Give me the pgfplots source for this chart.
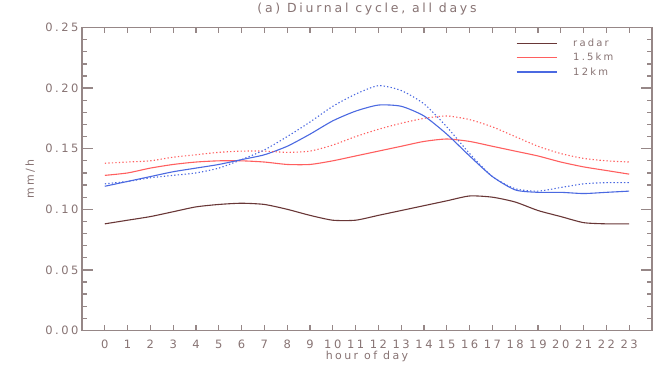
\documentclass[border=0pt]{standalone}
\usepackage{fontspec}
\setmainfont{DejaVu Sans}[LetterSpace=22]
\usepackage{pgfplots}
\usepackage{pgfplotstable}
\pgfplotsset{compat=1.18}
\definecolor{radarc}{RGB}{105,55,55}
\definecolor{redc}{RGB}{255,95,95}
\definecolor{bluec}{RGB}{75,105,225}
\definecolor{axc}{RGB}{150,135,135}
\definecolor{txtc}{RGB}{135,115,115}

\pgfplotstableread{
h radar red reddot blue bluedot
0 0.088 0.128 0.138 0.119 0.121
1 0.091 0.130 0.139 0.123 0.123
2 0.094 0.134 0.140 0.127 0.126
3 0.098 0.137 0.143 0.131 0.128
4 0.102 0.139 0.145 0.134 0.130
5 0.104 0.140 0.147 0.137 0.134
6 0.105 0.140 0.148 0.141 0.141
7 0.104 0.139 0.148 0.145 0.149
8 0.100 0.137 0.147 0.152 0.160
9 0.095 0.137 0.148 0.162 0.172
10 0.091 0.140 0.153 0.173 0.185
11 0.091 0.144 0.160 0.181 0.195
12 0.095 0.148 0.166 0.186 0.202
13 0.099 0.152 0.171 0.185 0.198
14 0.103 0.156 0.175 0.177 0.187
15 0.107 0.158 0.177 0.162 0.168
16 0.111 0.156 0.174 0.144 0.146
17 0.110 0.152 0.168 0.127 0.127
18 0.106 0.148 0.160 0.116 0.117
19 0.099 0.144 0.152 0.114 0.115
20 0.094 0.139 0.146 0.114 0.118
21 0.089 0.135 0.142 0.113 0.121
22 0.088 0.132 0.140 0.114 0.122
23 0.088 0.129 0.139 0.115 0.122
}\datatable

\begin{document}
\begin{tikzpicture}
\begin{axis}[
  name=ax,
  scale only axis, width=570pt, height=303pt,
  xmin=-1, xmax=24, ymin=0, ymax=0.25,
  xtick={0,...,23},
  minor xtick={0,...,23},
  ytick={0,0.05,0.10,0.15,0.20,0.25},
  minor ytick={0.01,0.02,0.03,0.04,0.06,0.07,0.08,0.09,0.11,0.12,0.13,0.14,0.16,0.17,0.18,0.19,0.21,0.22,0.23,0.24},
  tick align=inside,
  major tick length=11pt,
  minor tick length=5.5pt,
  major x tick style={draw=none},
  axis line style={draw=axc, line width=1.5pt},
  tick style={draw=axc, line width=1.3pt},
  tick label style={txtc, font=\fontsize{11.5}{13}\selectfont},
  /pgf/number format/assume math mode=true,
  yticklabel style={/pgf/number format/fixed, /pgf/number format/fixed zerofill, /pgf/number format/precision=2},
  xticklabel style={yshift=-6pt},
  xlabel={hour of day}, ylabel={mm/h},
  label style={txtc, font=\fontsize{11}{13}\selectfont},
  ylabel style={at={(axis description cs:-0.091,0.5)}, anchor=center},
  xlabel style={at={(axis description cs:0.5,-0.086)}, anchor=center},
  title={(a) Diurnal cycle, all days},
  title style={txtc, font=\fontsize{12.5}{14}\selectfont, at={(axis description cs:0.5,1.04)}, anchor=center},
  legend style={at={(axis description cs:0.756,0.975)}, anchor=north west, draw=none, fill=none,
    font=\fontsize{10}{12}\selectfont, text=txtc, row sep=1pt},
  legend cell align=left,
  legend image code/.code={\draw[#1] (0pt,0pt) -- (40pt,0pt);},
]
\addplot[radarc, line width=1.1pt, smooth, tension=0.4] table[x=h,y=radar] {\datatable};
\addlegendentry{\hspace{14pt}radar}
\addplot[redc, line width=1.1pt, smooth, tension=0.4] table[x=h,y=red] {\datatable};
\addlegendentry{\hspace{14pt}1.5km}
\addplot[bluec, line width=1.1pt, smooth, tension=0.4] table[x=h,y=blue] {\datatable};
\addlegendentry{\hspace{14pt}12km}
\addplot[redc, line width=1.1pt, smooth, tension=0.4, dash pattern=on 1.3pt off 2.2pt, forget plot] table[x=h,y=reddot] {\datatable};
\addplot[bluec, line width=1.1pt, smooth, tension=0.4, dash pattern=on 1.3pt off 2.2pt, forget plot] table[x=h,y=bluedot] {\datatable};
\end{axis}
\path[use as bounding box] ([shift={(-82pt,-32pt)}]ax.south west) rectangle ([shift={(6pt,27pt)}]ax.north east);
\end{tikzpicture}
\end{document}
